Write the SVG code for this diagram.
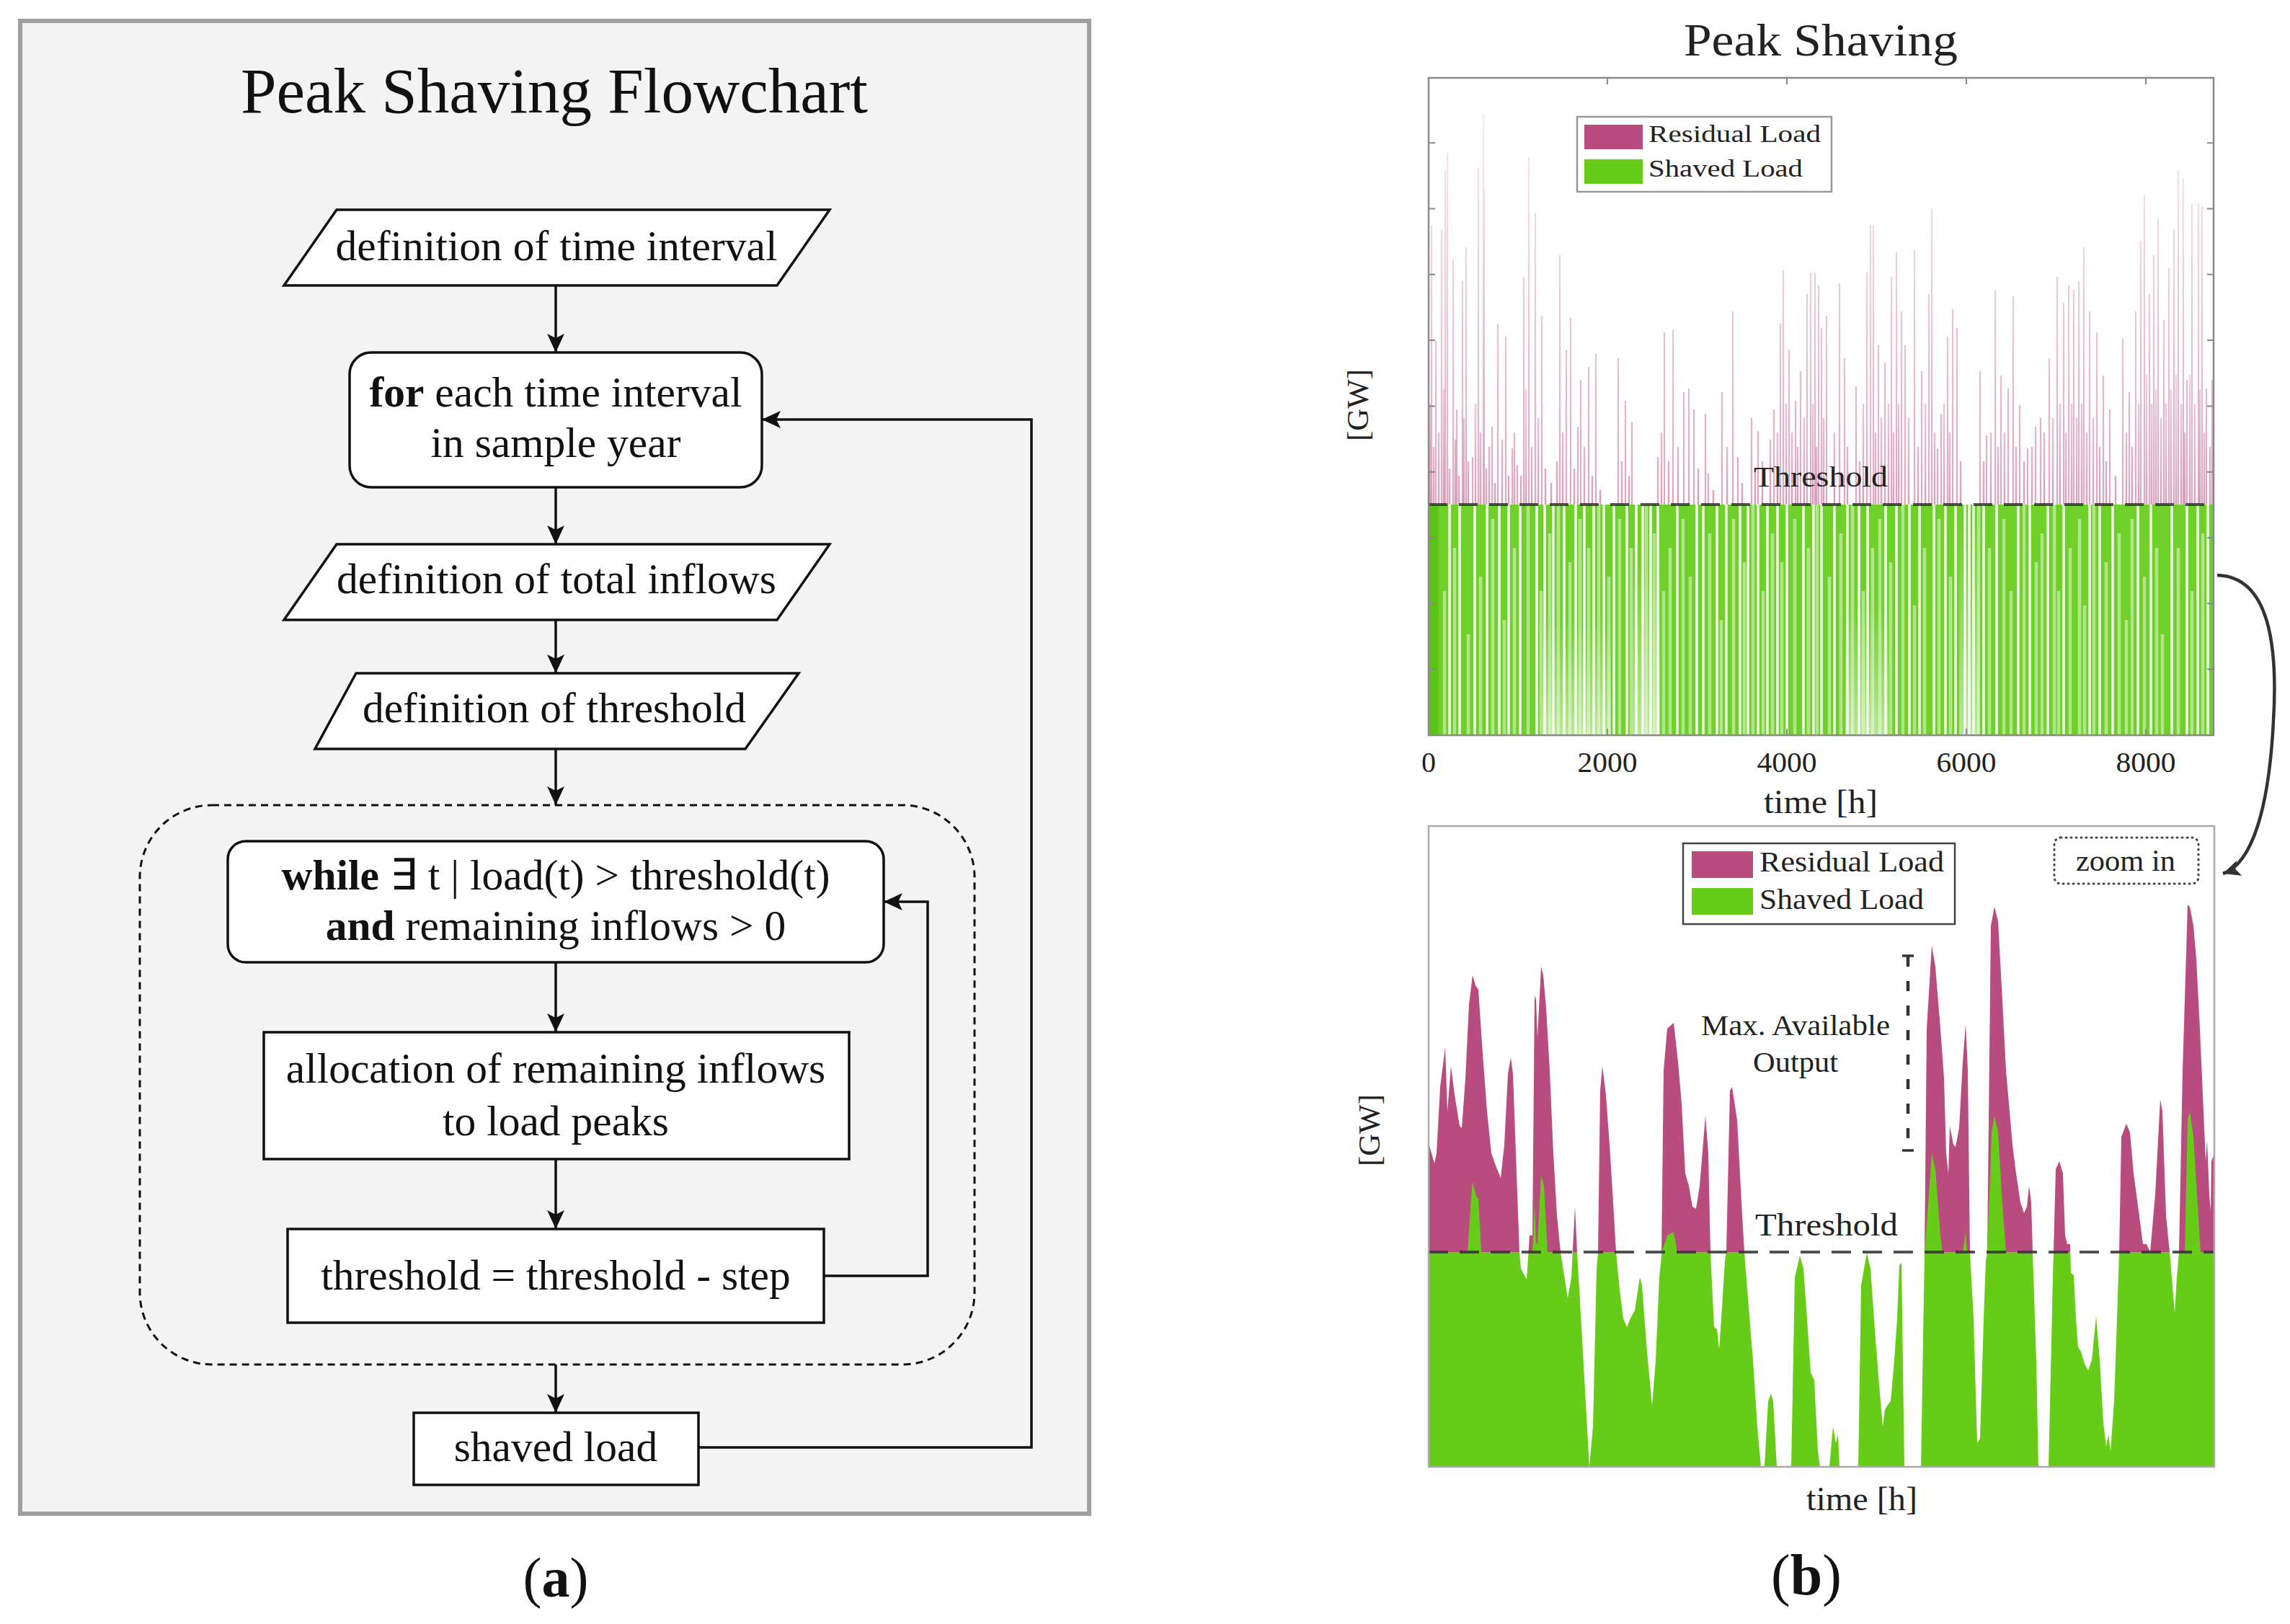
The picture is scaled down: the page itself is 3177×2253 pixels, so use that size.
<svg xmlns="http://www.w3.org/2000/svg" width="3177" height="2253" viewBox="0 0 3177 2253">
<defs>
<style>
.ft{font-family:"Liberation Serif","Times New Roman",serif;font-size:59.5px;fill:#111;text-anchor:middle}
.bx{fill:#fff;stroke:#111;stroke-width:3.5}
.cn{fill:none;stroke:#111;stroke-width:3.5}
.cm{font-family:"Liberation Serif","Times New Roman",serif;fill:#222}
.tk{stroke:#888;stroke-width:2}
</style>
<marker id="ah" viewBox="0 0 26 24" refX="26" refY="12" markerWidth="26" markerHeight="24" markerUnits="userSpaceOnUse" orient="auto"><path d="M0,0 L26,12 L0,24 L6,12 Z" fill="#111"/></marker>
<marker id="ah2" viewBox="0 0 26 24" refX="26" refY="12" markerWidth="24" markerHeight="22" markerUnits="userSpaceOnUse" orient="auto"><path d="M0,0 L26,12 L0,24 L6,12 Z" fill="#333"/></marker>
<linearGradient id="pk" gradientUnits="userSpaceOnUse" x1="0" y1="700" x2="0" y2="150"><stop offset="0" stop-color="#b84c7e" stop-opacity="0.5"/><stop offset="1" stop-color="#b84c7e" stop-opacity="0.1"/></linearGradient>
<linearGradient id="pk2" gradientUnits="userSpaceOnUse" x1="0" y1="700" x2="0" y2="500"><stop offset="0" stop-color="#b84c7e" stop-opacity="0.55"/><stop offset="1" stop-color="#b84c7e" stop-opacity="0.2"/></linearGradient>
<linearGradient id="wf" x1="0" y1="0" x2="0" y2="1"><stop offset="0" stop-color="#fff" stop-opacity="0"/><stop offset="1" stop-color="#fff" stop-opacity="0.5"/></linearGradient>
<clipPath id="lclip"><polygon points="1981,2035 1981,1582 1990,1614 1993,1600 1998,1508 2005,1453 2008,1542 2013,1479 2018,1519 2025,1562 2028,1565 2033,1496 2038,1393 2043,1353 2047,1367 2051,1373 2057,1462 2063,1542 2069,1600 2075,1617 2082,1634 2087,1588 2092,1490 2096,1467 2099,1490 2103,1600 2108,1737 2110,1760 2118,1775 2122,1714 2126,1714 2129,1381 2131,1387 2133,1439 2138,1341 2141,1353 2145,1398 2150,1485 2155,1600 2160,1686 2165,1737 2175,1801 2180,1772 2185,1674 2188,1737 2195,1858 2205,2035 2210,1979 2215,1760 2217,1737 2220,1513 2223,1479 2228,1519 2233,1588 2238,1668 2242,1737 2247,1789 2252,1829 2257,1841 2262,1829 2268,1818 2275,1772 2278,1783 2285,1875 2292,1950 2297,1887 2302,1772 2305,1743 2308,1485 2313,1427 2322,1419 2328,1473 2333,1531 2338,1628 2343,1645 2348,1674 2353,1677 2358,1645 2366,1548 2370,1600 2373,1737 2378,1841 2382,1844 2385,1872 2388,1829 2393,1749 2395,1737 2400,1513 2403,1508 2410,1554 2417,1686 2420,1737 2425,1801 2432,1887 2438,1979 2443,2035 2448,2035 2453,1944 2457,1933 2460,1944 2465,2035 2485,2035 2490,1772 2497,1742 2502,1760 2507,1829 2512,1904 2517,1915 2522,2013 2525,2035 2538,2035 2543,1979 2547,2002 2550,1990 2552,2035 2578,2035 2582,1783 2590,1738 2595,1760 2602,1858 2608,1933 2612,1979 2615,1956 2618,1950 2623,1944 2628,1887 2632,1829 2635,1755 2638,1752 2642,2035 2665,2035 2670,1737 2673,1427 2680,1312 2685,1341 2692,1427 2697,1496 2700,1600 2703,1628 2705,1562 2710,1588 2713,1591 2718,1565 2723,1473 2727,1421 2730,1485 2733,1737 2738,1829 2743,2002 2747,1996 2752,1829 2755,1749 2757,1737 2762,1284 2767,1258 2772,1278 2777,1370 2783,1485 2792,1588 2797,1628 2803,1668 2808,1683 2812,1674 2815,1645 2818,1668 2820,1737 2825,1887 2828,2035 2842,2035 2848,1772 2852,1622 2857,1611 2862,1628 2865,1714 2868,1726 2872,1726 2873,1766 2877,1769 2880,1829 2883,1869 2887,1875 2892,1892 2897,1901 2902,1887 2908,1826 2913,1887 2918,1973 2922,2007 2925,1990 2928,2013 2933,1944 2937,1829 2940,1737 2943,1577 2950,1559 2955,1571 2960,1628 2967,1680 2973,1726 2978,1726 2983,1737 2990,1657 2997,1525 3000,1542 3005,1686 3010,1737 3013,1772 3017,1821 3020,1772 3023,1737 3028,1485 3035,1255 3038,1258 3043,1284 3047,1330 3052,1427 3057,1542 3060,1611 3062,1582 3065,1657 3067,1680 3068,1611 3072,1600 3072,2035"/></clipPath>
<clipPath id="above"><rect x="1975" y="1140" width="1100" height="598"/></clipPath>
</defs>
<rect width="3177" height="2253" fill="#fff"/>

<g id="panel-a">
<rect x="28" y="29" width="1483" height="2071" fill="#f4f4f4" stroke="#a0a0a0" stroke-width="6"/>
<text x="769" y="156" style="font-family:'Liberation Serif','Times New Roman',serif;font-size:89px;fill:#111;text-anchor:middle">Peak Shaving Flowchart</text>
</g>

<g id="node-time-interval">
<polygon class="bx" points="467,291 1151,291 1078,396 394,396"/>
<text class="ft" x="772" y="361">definition of time interval</text>
</g>
<g id="node-for-each">
<rect class="bx" x="485" y="489" width="572" height="187" rx="30"/>
<text class="ft" x="771" y="564"><tspan font-weight="bold">for</tspan> each time interval</text>
<text class="ft" x="771" y="634">in sample year</text>
</g>
<g id="node-total-inflows">
<polygon class="bx" points="467,755 1151,755 1078,860 394,860"/>
<text class="ft" x="772" y="823">definition of total inflows</text>
</g>
<g id="node-threshold-def">
<polygon class="bx" points="494,934 1108,934 1034,1039 437,1039"/>
<text class="ft" x="769" y="1002">definition of threshold</text>
</g>
<g id="node-loop">
<rect x="194" y="1117" width="1158" height="776" rx="100" fill="none" stroke="#111" stroke-width="3" stroke-dasharray="10 7"/>
</g>
<g id="node-while">
<rect class="bx" x="316" y="1167" width="910" height="168" rx="25"/>
<text class="ft" x="771" y="1234"><tspan font-weight="bold">while</tspan> ∃ t | load(t) &gt; threshold(t)</text>
<text class="ft" x="771" y="1304"><tspan font-weight="bold">and</tspan> remaining inflows &gt; 0</text>
</g>
<g id="node-allocation">
<rect class="bx" x="366" y="1432" width="812" height="176"/>
<text class="ft" x="771" y="1502">allocation of remaining inflows</text>
<text class="ft" x="771" y="1575">to load peaks</text>
</g>
<g id="node-step">
<rect class="bx" x="399" y="1705" width="744" height="130"/>
<text class="ft" x="771" y="1789">threshold = threshold - step</text>
</g>
<g id="node-shaved">
<rect class="bx" x="574" y="1960" width="395" height="100"/>
<text class="ft" x="771" y="2027">shaved load</text>
</g>

<g id="connectors">
<line class="cn" x1="771" y1="396" x2="771" y2="489" marker-end="url(#ah)"/>
<line class="cn" x1="771" y1="676" x2="771" y2="755" marker-end="url(#ah)"/>
<line class="cn" x1="771" y1="860" x2="771" y2="934" marker-end="url(#ah)"/>
<line class="cn" x1="771" y1="1039" x2="771" y2="1117" marker-end="url(#ah)"/>
<line class="cn" x1="771" y1="1335" x2="771" y2="1432" marker-end="url(#ah)"/>
<line class="cn" x1="771" y1="1608" x2="771" y2="1705" marker-end="url(#ah)"/>
<line class="cn" x1="771" y1="1893" x2="771" y2="1960" marker-end="url(#ah)"/>
<polyline class="cn" points="1143,1770 1287,1770 1287,1251 1226,1251" marker-end="url(#ah)"/>
<polyline class="cn" points="969,2008 1431,2008 1431,582 1057,582" marker-end="url(#ah)"/>
<path d="M3076,798 C3150,800 3160,900 3154,1000 C3148,1120 3125,1198 3084,1212" fill="none" stroke="#333" stroke-width="4.5" marker-end="url(#ah2)"/>
</g>

<text x="771" y="2215" style="font-family:'Liberation Serif','Times New Roman',serif;font-size:78px;fill:#111;text-anchor:middle">(<tspan font-weight="bold">a</tspan>)</text>

<g id="chart-top">
<text class="cm" x="2526" y="77" font-size="63" text-anchor="middle" textLength="380" lengthAdjust="spacingAndGlyphs">Peak Shaving</text>
<rect x="1982" y="700" width="1089" height="320" fill="#70d02a"/>
<rect x="1982" y="700" width="14" height="320" fill="#5cc414"/>
<rect x="2140" y="860" width="95" height="160" fill="url(#wf)"/>
<rect x="2265" y="780" width="38" height="240" fill="url(#wf)"/>
<rect x="2718" y="720" width="28" height="300" fill="url(#wf)"/>
<rect x="2560" y="840" width="60" height="180" fill="url(#wf)"/>
<path d="M2011,700V1020M2025,700V1020M2046,700V1020M2063,700V1020M2080,700V1020M2093,700V1020M2109,700V1020M2132,700V1020M2143,700V1020M2155,700V1020M2170,700V1020M2186,700V1020M2198,700V1020M2211,700V1020M2225,700V1020M2239,700V1020M2257,700V1020M2270,700V1020M2279,700V1020M2290,700V1020M2300,700V1020M2327,700V1020M2354,700V1020M2363,700V1020M2382,700V1020M2395,700V1020M2414,700V1020M2425,700V1020M2439,700V1020M2452,700V1020M2466,700V1020M2479,700V1020M2502,700V1020M2516,700V1020M2527,700V1020M2545,700V1020M2563,700V1020M2579,700V1020M2591,700V1020M2616,700V1020M2631,700V1020M2649,700V1020M2663,700V1020M2683,700V1020M2699,700V1020M2713,700V1020M2726,700V1020M2732,700V1020M2738,700V1020M2752,700V1020M2770,700V1020M2800,700V1020M2816,700V1020M2841,700V1020M2863,700V1020M2899,700V1020M2913,700V1020M2931,700V1020M2966,700V1020M2984,700V1020M3013,700V1020M3034,700V1020M3049,700V1020M3063,700V1020" stroke="#fff" stroke-width="3.5" stroke-opacity="0.92" fill="none"/>
<path d="M2004,820V1020M2018,760V1020M2037,880V1020M2054,800V1020M2071,720V1020M2087,860V1020M2101,760V1020M2120,700V1020M2138,820V1020M2150,740V1020M2162,700V1020M2178,780V1020M2192,720V1020M2204,760V1020M2218,700V1020M2232,800V1020M2247,720V1020M2263,760V1020M2284,700V1020M2295,740V1020M2308,820V1020M2317,760V1020M2335,720V1020M2345,800V1020M2372,740V1020M2388,860V1020M2405,720V1020M2420,780V1020M2432,700V1020M2446,820V1020M2459,740V1020M2472,780V1020M2490,720V1020M2509,760V1020M2521,700V1020M2538,800V1020M2554,740V1020M2570,700V1020M2585,820V1020M2598,760V1020M2608,720V1020M2623,780V1020M2640,700V1020M2656,840V1020M2670,760V1020M2690,720V1020M2706,800V1020M2745,700V1020M2760,760V1020M2780,720V1020M2790,820V1020M2808,700V1020M2825,780V1020M2833,740V1020M2850,700V1020M2856,820V1020M2872,760V1020M2885,720V1020M2892,840V1020M2905,700V1020M2922,780V1020M2940,740V1020M2950,860V1020M2958,720V1020M2975,800V1020M2992,760V1020M3000,880V1020M3022,760V1020M3041,820V1020M3056,740V1020" stroke="#fff" stroke-width="4.5" stroke-opacity="0.45" fill="none"/>
<path d="M1986,700V313M1992,700V473M2000,700V319M2005,700V236M2008,700V212M2016,700V360M2021,700V568M2029,700V390M2034,700V343M2043,700V634M2051,700V233M2058,700V158M2059,700V259M2070,700V592M2078,700V449M2089,700V467M2098,700V622M2105,700V645M2114,700V384M2121,700V218M2130,700V295M2139,700V438M2164,700V354M2173,700V485M2179,700V441M2189,700V592M2193,700V527M2204,700V509M2214,700V491M2245,700V497M2255,700V556M2264,700V586M2300,700V634M2309,700V461M2321,700V458M2336,700V544M2343,700V539M2350,700V568M2366,700V574M2370,700V657M2389,700V544M2404,700V432M2411,700V634M2430,700V580M2439,700V598M2461,700V568M2470,700V449M2474,700V375M2482,700V485M2491,700V556M2498,700V515M2507,700V408M2512,700V378M2518,700V378M2523,700V396M2527,700V455M2534,700V438M2552,700V393M2559,700V497M2575,700V536M2590,700V378M2595,700V313M2599,700V313M2606,700V479M2615,700V503M2624,700V384M2631,700V349M2638,700V432M2643,700V479M2656,700V346M2666,700V515M2676,700V408M2680,700V289M2688,700V622M2693,700V574M2702,700V467M2709,700V429M2715,700V455M2747,700V515M2756,700V604M2768,700V402M2776,700V521M2786,700V539M2793,700V411M2802,700V562M2813,700V622M2824,700V592M2831,700V580M2843,700V497M2854,700V384M2863,700V420M2870,700V396M2877,700V402M2884,700V390M2891,700V343M2899,700V432M2909,700V461M2918,700V521M2927,700V568M2945,700V470M2954,700V544M2963,700V432M2970,700V334M2975,700V271M2982,700V408M2988,700V354M2994,700V304M3002,700V444M3009,700V372M3016,700V319M3022,700V236M3029,700V248M3034,700V527M3041,700V283M3050,700V283M3055,700V286M3061,700V539M3069,700V527" stroke="url(#pk)" stroke-width="2.2" fill="none"/>
<path d="M1984,700V560M1989,700V620M1996,700V600M2003,700V540M2011,700V650M2019,700V610M2024,700V660M2031,700V580M2037,700V640M2047,700V560M2054,700V600M2062,700V650M2066,700V620M2074,700V670M2084,700V610M2093,700V660M2101,700V600M2110,700V660M2117,700V540M2125,700V620M2134,700V580M2144,700V650M2152,700V670M2160,700V640M2168,700V600M2184,700V650M2198,700V620M2209,700V660M2220,700V680M2250,700V640M2260,700V660M2305,700V600M2315,700V640M2328,700V620M2356,700V650M2377,700V680M2396,700V620M2417,700V670M2435,700V650M2445,700V640M2456,700V610M2466,700V600M2478,700V560M2486,700V600M2494,700V620M2503,700V580M2515,700V560M2520,700V620M2530,700V580M2545,700V600M2563,700V620M2580,700V640M2585,700V560M2602,700V600M2610,700V580M2620,700V560M2627,700V600M2634,700V560M2648,700V580M2661,700V620M2671,700V560M2684,700V600M2697,700V560M2705,700V600M2720,700V640M2752,700V640M2762,700V600M2772,700V620M2781,700V600M2797,700V620M2808,700V640M2819,700V620M2836,700V600M2848,700V580M2858,700V560M2866,700V600M2874,700V560M2881,700V580M2888,700V560M2895,700V600M2904,700V580M2913,700V620M2922,700V640M2935,700V660M2950,700V600M2958,700V620M2967,700V560M2978,700V520M2985,700V560M2991,700V540M2998,700V580M3005,700V560M3012,700V540M3019,700V520M3026,700V560M3031,700V600M3038,700V520M3045,700V560M3052,700V540M3058,700V600M3066,700V620" stroke="url(#pk2)" stroke-width="2.4" fill="none"/>
<line x1="1982" y1="700" x2="3071" y2="700" stroke="#333" stroke-opacity="0.85" stroke-width="4" stroke-dasharray="26 16"/>
<text class="cm" x="2526" y="675" font-size="40" text-anchor="middle" textLength="186" lengthAdjust="spacingAndGlyphs" fill="#333">Threshold</text>
<rect x="1982" y="108" width="1089" height="912" fill="none" stroke="#8a8a8a" stroke-width="2.5"/>
<path class="tk" d="M1982,198.3h9M1982,289.6h9M1982,380.8h9M1982,472h9M1982,563.5h9M1982,654.7h9M1982,746h9M1982,837.2h9M1982,928.5h9M3071,198.3h-9M3071,289.6h-9M3071,380.8h-9M3071,472h-9M3071,563.5h-9M3071,654.7h-9M3071,746h-9M3071,837.2h-9M3071,928.5h-9M2230,108v9M2479,108v9M2728,108v9M2977,108v9M2230,1020v-9M2479,1020v-9M2728,1020v-9M2977,1020v-9"/>
<g id="legend-top">
<rect x="2188" y="162" width="353" height="104" fill="#fff" stroke="#999" stroke-width="2.5"/>
<rect x="2198" y="173" width="81" height="34" fill="#b84c7e"/>
<rect x="2198" y="221" width="81" height="34" fill="#66cc18"/>
<text class="cm" x="2287" y="197" font-size="34" textLength="239" lengthAdjust="spacingAndGlyphs">Residual Load</text>
<text class="cm" x="2287" y="245" font-size="34" textLength="214" lengthAdjust="spacingAndGlyphs">Shaved Load</text>
</g>
<g class="cm" font-size="40" text-anchor="middle">
<text x="1982" y="1071">0</text>
<text x="2230" y="1071" textLength="83" lengthAdjust="spacingAndGlyphs">2000</text>
<text x="2479" y="1071" textLength="83" lengthAdjust="spacingAndGlyphs">4000</text>
<text x="2728" y="1071" textLength="83" lengthAdjust="spacingAndGlyphs">6000</text>
<text x="2977" y="1071" textLength="83" lengthAdjust="spacingAndGlyphs">8000</text>
</g>
<text class="cm" x="2526" y="1128" font-size="46" text-anchor="middle" textLength="158" lengthAdjust="spacingAndGlyphs">time [h]</text>
<text class="cm" transform="translate(1898,562) rotate(-90)" x="0" y="0" font-size="42" text-anchor="middle" textLength="100" lengthAdjust="spacingAndGlyphs">[GW]</text>
</g>

<g id="chart-bottom">
<polygon points="1981,2035 1981,1582 1990,1614 1993,1600 1998,1508 2005,1453 2008,1542 2013,1479 2018,1519 2025,1562 2028,1565 2033,1496 2038,1393 2043,1353 2047,1367 2051,1373 2057,1462 2063,1542 2069,1600 2075,1617 2082,1634 2087,1588 2092,1490 2096,1467 2099,1490 2103,1600 2108,1737 2110,1760 2118,1775 2122,1714 2126,1714 2129,1381 2131,1387 2133,1439 2138,1341 2141,1353 2145,1398 2150,1485 2155,1600 2160,1686 2165,1737 2175,1801 2180,1772 2185,1674 2188,1737 2195,1858 2205,2035 2210,1979 2215,1760 2217,1737 2220,1513 2223,1479 2228,1519 2233,1588 2238,1668 2242,1737 2247,1789 2252,1829 2257,1841 2262,1829 2268,1818 2275,1772 2278,1783 2285,1875 2292,1950 2297,1887 2302,1772 2305,1743 2308,1485 2313,1427 2322,1419 2328,1473 2333,1531 2338,1628 2343,1645 2348,1674 2353,1677 2358,1645 2366,1548 2370,1600 2373,1737 2378,1841 2382,1844 2385,1872 2388,1829 2393,1749 2395,1737 2400,1513 2403,1508 2410,1554 2417,1686 2420,1737 2425,1801 2432,1887 2438,1979 2443,2035 2448,2035 2453,1944 2457,1933 2460,1944 2465,2035 2485,2035 2490,1772 2497,1742 2502,1760 2507,1829 2512,1904 2517,1915 2522,2013 2525,2035 2538,2035 2543,1979 2547,2002 2550,1990 2552,2035 2578,2035 2582,1783 2590,1738 2595,1760 2602,1858 2608,1933 2612,1979 2615,1956 2618,1950 2623,1944 2628,1887 2632,1829 2635,1755 2638,1752 2642,2035 2665,2035 2670,1737 2673,1427 2680,1312 2685,1341 2692,1427 2697,1496 2700,1600 2703,1628 2705,1562 2710,1588 2713,1591 2718,1565 2723,1473 2727,1421 2730,1485 2733,1737 2738,1829 2743,2002 2747,1996 2752,1829 2755,1749 2757,1737 2762,1284 2767,1258 2772,1278 2777,1370 2783,1485 2792,1588 2797,1628 2803,1668 2808,1683 2812,1674 2815,1645 2818,1668 2820,1737 2825,1887 2828,2035 2842,2035 2848,1772 2852,1622 2857,1611 2862,1628 2865,1714 2868,1726 2872,1726 2873,1766 2877,1769 2880,1829 2883,1869 2887,1875 2892,1892 2897,1901 2902,1887 2908,1826 2913,1887 2918,1973 2922,2007 2925,1990 2928,2013 2933,1944 2937,1829 2940,1737 2943,1577 2950,1559 2955,1571 2960,1628 2967,1680 2973,1726 2978,1726 2983,1737 2990,1657 2997,1525 3000,1542 3005,1686 3010,1737 3013,1772 3017,1821 3020,1772 3023,1737 3028,1485 3035,1255 3038,1258 3043,1284 3047,1330 3052,1427 3057,1542 3060,1611 3062,1582 3065,1657 3067,1680 3068,1611 3072,1600 3072,2035" fill="#b84c7e" clip-path="url(#above)"/>
<rect x="1981" y="1737" width="1091" height="298" fill="#66cc18" clip-path="url(#lclip)"/>
<g fill="#66cc18">
<polygon points="2036,1738 2041,1660 2043,1640 2048,1660 2051,1663 2055,1738"/>
<polygon points="2126,1738 2129,1668 2131,1725 2133,1725 2138,1631 2142,1645 2147,1738"/>
<polygon points="2305,1738 2313,1714 2322,1709 2327,1738"/>
<polygon points="2670,1738 2680,1600 2685,1622 2692,1714 2695,1738"/>
<polygon points="2723,1738 2727,1709 2729,1738"/>
<polygon points="2757,1738 2763,1571 2767,1548 2772,1571 2777,1657 2783,1738"/>
<polygon points="3031,1738 3035,1553 3038,1542 3043,1577 3048,1657 3053,1738"/>
</g>
<line x1="1982" y1="1737" x2="3072" y2="1737" stroke="#333" stroke-opacity="0.85" stroke-width="4" stroke-dasharray="27 16"/>
<text class="cm" x="2534" y="1714" font-size="44" text-anchor="middle" textLength="198" lengthAdjust="spacingAndGlyphs" fill="#333">Threshold</text>
<rect x="1982" y="1146" width="1090" height="889" fill="none" stroke="#aaa" stroke-width="2.5"/>
<g id="max-output">
<line x1="2647" y1="1327" x2="2647" y2="1595" stroke="#333" stroke-width="4.5" stroke-dasharray="14 20"/>
<line x1="2639" y1="1326" x2="2655" y2="1326" stroke="#333" stroke-width="3.5"/>
<line x1="2639" y1="1596" x2="2655" y2="1596" stroke="#333" stroke-width="3.5"/>
<text class="cm" x="2491" y="1436" font-size="40" text-anchor="middle" textLength="262" lengthAdjust="spacingAndGlyphs" fill="#333">Max. Available</text>
<text class="cm" x="2491" y="1487" font-size="40" text-anchor="middle" textLength="118" lengthAdjust="spacingAndGlyphs" fill="#333">Output</text>
</g>
<g id="legend-bottom">
<rect x="2335" y="1170" width="377" height="112" fill="#fff" stroke="#444" stroke-width="2.5"/>
<rect x="2347" y="1181" width="85" height="37" fill="#b84c7e"/>
<rect x="2347" y="1232" width="85" height="37" fill="#66cc18"/>
<text class="cm" x="2441" y="1209" font-size="40" textLength="256" lengthAdjust="spacingAndGlyphs">Residual Load</text>
<text class="cm" x="2441" y="1261" font-size="40" textLength="228" lengthAdjust="spacingAndGlyphs">Shaved Load</text>
</g>
<g id="zoom-in">
<rect x="2850" y="1162" width="200" height="64" rx="9" fill="#fff" stroke="#444" stroke-width="3" stroke-dasharray="1 6" stroke-linecap="round"/>
<text class="cm" x="2949" y="1208" font-size="42" text-anchor="middle" textLength="138" lengthAdjust="spacingAndGlyphs">zoom in</text>
</g>
<text class="cm" x="2583" y="2095" font-size="46" text-anchor="middle" textLength="154" lengthAdjust="spacingAndGlyphs">time [h]</text>
<text class="cm" transform="translate(1914,1568) rotate(-90)" x="0" y="0" font-size="42" text-anchor="middle" textLength="100" lengthAdjust="spacingAndGlyphs">[GW]</text>
</g>

<text x="2506" y="2212" style="font-family:'Liberation Serif','Times New Roman',serif;font-size:80px;fill:#111;text-anchor:middle">(<tspan font-weight="bold">b</tspan>)</text>
</svg>
